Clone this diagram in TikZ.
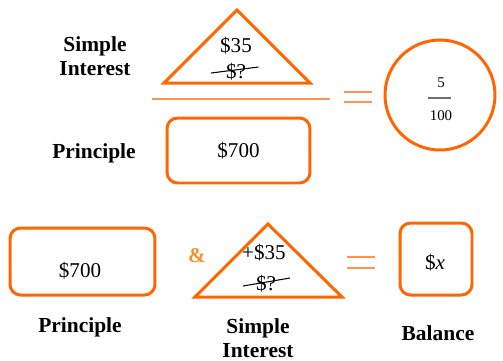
\documentclass[tikz,border=0pt]{standalone}
\usepackage{fontspec}
\setmainfont{Liberation Serif}
\usetikzlibrary{positioning}
\definecolor{mainorange}{RGB}{255,102,0}
\definecolor{softorange}{RGB}{255,150,80}
\definecolor{amporange}{RGB}{245,145,40}
\definecolor{bargray}{RGB}{110,110,110}
\tikzset{
  box/.style={
    rectangle,
    rounded corners=6pt,
    draw=mainorange,
    line width=1.7pt,
    inner sep=0pt
  },
  tri/.style={
    draw=mainorange,
    line width=1.7pt,
    line join=miter
  },
  lbl/.style={
    align=center,
    font=\fontsize{12.2}{13.8}\selectfont\bfseries,
    inner sep=0pt
  },
  val/.style={
    font=\fontsize{12}{14}\selectfont,
    inner sep=0pt
  },
  eqline/.style={draw=softorange, line width=0.9pt},
  strike/.style={draw=black, line width=0.6pt}
}

\begin{document}
\begin{tikzpicture}[x=0.02cm, y=-0.02cm]
    \useasboundingbox (0,0) rectangle (503,360);

    % top row: fraction
    \node[lbl] (silbl) at (95,56) {Simple\\Interest};
    \node[lbl] (prlbl) at (94,153) {Principle};

    \coordinate (tapex) at (237,10);
    \coordinate (tleft) at (164,83);
    \coordinate (tright) at (310,83);
    \draw[tri] (tapex) -- (tleft) -- (tright) -- cycle;
    \node[val] (topint) at (236,46) {\$35};
    \node[val] (topq) at (236,72) {\$?};
    \draw[strike] ([xshift=-0.5cm, yshift=-0.02cm]topq.center) -- ([xshift=0.45cm, yshift=0.1cm]topq.center);

    \coordinate (barl) at (152,99);
    \coordinate (barr) at (330,99);
    \draw[softorange, line width=0.8pt] (barl) -- (barr);

    \node[box, minimum width=2.86cm, minimum height=1.3cm, font=\fontsize{12}{14}\selectfont] (topbox) at (238.5,150.5) {\$700};

    \coordinate (eqa) at (344,92);
    \coordinate (eqb) at (372,92);
    \coordinate (eqc) at (344,102);
    \coordinate (eqd) at (372,102);
    \draw[eqline] (eqa) -- (eqb);
    \draw[eqline] (eqc) -- (eqd);

    \node[circle, draw=mainorange, line width=1.7pt, minimum size=2.2cm] (rate) at (440,95) {};
    \node[font=\fontsize{8.5}{10}\selectfont, inner sep=0pt] (num) at (441,83) {5};
    \node[font=\fontsize{8.5}{10}\selectfont, inner sep=0pt] (den) at (441,116) {100};
    \draw[bargray, line width=0.8pt] ([xshift=-0.24cm]rate.center |- 0,98) coordinate (fbl) -- ([xshift=0.22cm]rate.center |- 0,98) coordinate (fbr);

    % bottom row: sum
    \node[box, minimum width=2.9cm, minimum height=1.34cm] (prbox) at (82.5,261.5) {};
    \node[val] (prval) at (80,271) {\$700};
    \node[lbl] (prlbl2) at (80,327) {Principle};

    \node[font=\fontsize{12}{13}\selectfont\bfseries, text=amporange, inner sep=0pt] (amp) at (197,256) {\&};

    \coordinate (bapex) at (268,224);
    \coordinate (bleft) at (195,297);
    \coordinate (bright) at (342,297);
    \draw[tri] (bapex) -- (bleft) -- (bright) -- cycle;
    \node[val] (botint) at (264,253) {+\$35};
    \node[val] (botq) at (266,284) {\$?};
    \draw[strike] ([xshift=-0.46cm, yshift=-0.04cm]botq.center) -- ([xshift=0.48cm, yshift=0.12cm]botq.center);
    \node[lbl] (silbl2) at (258,338) {Simple\\Interest};

    \coordinate (eqe) at (347,257);
    \coordinate (eqf) at (375,257);
    \coordinate (eqg) at (347,268);
    \coordinate (eqh) at (375,268);
    \draw[eqline] (eqe) -- (eqf);
    \draw[eqline] (eqg) -- (eqh);

    \node[box, minimum width=1.44cm, minimum height=1.44cm] (balbox) at (436,259) {};
    \node[val] (balval) at (435,263) {\$\textit{x}};
    \node[lbl] (ballbl) at (438,333) {Balance};
  \end{tikzpicture}
\end{document}
